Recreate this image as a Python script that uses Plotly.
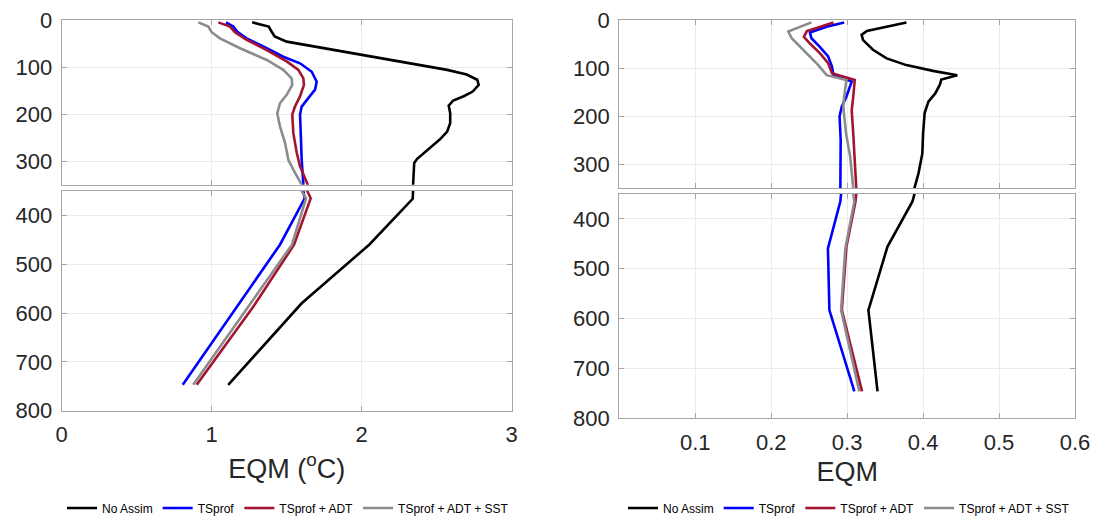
import plotly.graph_objects as go

# ---------------- data ----------------
series_names = ["No Assim", "TSprof", "TSprof + ADT", "TSprof + ADT + SST"]
series_colors = ["#000000", "#0000FF", "#A2142F", "#8C8C8C"]

# Left panel: temperature RMSE (EQM, degC) vs depth (m)
t_noassim_depth = [5, 14, 25, 35, 46, 56, 74, 92, 106, 116, 127, 138, 152, 162, 171, 182, 198, 219, 237, 254, 279, 295, 304, 366, 460, 580, 747]
t_noassim_eqm = [1.27, 1.38, 1.40, 1.42, 1.50, 1.68, 2.01, 2.34, 2.57, 2.70, 2.77, 2.78, 2.74, 2.68, 2.61, 2.58, 2.59, 2.59, 2.57, 2.52, 2.43, 2.37, 2.35, 2.34, 2.05, 1.60, 1.11]

t_tsprof_depth = [5, 14, 25, 39, 60, 78, 92, 110, 131, 148, 166, 184, 201, 240, 297, 350, 365, 460, 747]
t_tsprof_eqm = [1.095, 1.144, 1.171, 1.233, 1.367, 1.477, 1.589, 1.667, 1.70, 1.689, 1.644, 1.60, 1.589, 1.593, 1.60, 1.611, 1.62, 1.455, 0.807]

t_adt_depth = [5, 14, 26, 42, 64, 88, 106, 124, 138, 162, 184, 201, 240, 282, 311, 350, 365, 460, 587, 747]
t_adt_eqm = [1.044, 1.122, 1.155, 1.233, 1.367, 1.50, 1.578, 1.611, 1.615, 1.589, 1.555, 1.537, 1.544, 1.567, 1.589, 1.637, 1.66, 1.549, 1.277, 0.90]

t_sst_depth = [5, 14, 26, 39, 60, 85, 106, 124, 138, 159, 177, 198, 226, 261, 297, 318, 350, 365, 460, 747]
t_sst_eqm = [0.911, 0.977, 1.0, 1.055, 1.189, 1.367, 1.477, 1.533, 1.537, 1.50, 1.455, 1.437, 1.455, 1.489, 1.511, 1.544, 1.60, 1.629, 1.535, 0.877]

# Right panel: salinity RMSE (EQM) vs depth (m)
s_noassim_depth = [5, 14, 23, 31, 42, 62, 80, 94, 106, 115, 124, 135, 153, 170, 194, 236, 278, 319, 350, 365, 456, 583, 746]
s_noassim_eqm = [0.378, 0.352, 0.326, 0.319, 0.321, 0.334, 0.352, 0.378, 0.413, 0.445, 0.424, 0.422, 0.416, 0.407, 0.402, 0.400, 0.399, 0.394, 0.389, 0.386, 0.353, 0.328, 0.340]

s_tsprof_depth = [5, 14, 26, 38, 56, 76, 97, 115, 128, 160, 180, 201, 250, 350, 365, 459, 583, 746]
s_tsprof_eqm = [0.296, 0.273, 0.251, 0.253, 0.264, 0.275, 0.280, 0.282, 0.306, 0.299, 0.293, 0.290, 0.2915, 0.292, 0.291, 0.2747, 0.2766, 0.3095]

s_adt_depth = [5, 23, 35, 49, 69, 90, 111, 125, 160, 188, 236, 350, 365, 456, 583, 746]
s_adt_eqm = [0.282, 0.247, 0.243, 0.251, 0.264, 0.275, 0.280, 0.310, 0.308, 0.306, 0.308, 0.312, 0.311, 0.299, 0.293, 0.3196]

s_sst_depth = [5, 24, 38, 69, 94, 115, 125, 160, 181, 236, 285, 350, 365, 459, 583, 746]
s_sst_eqm = [0.253, 0.2225, 0.227, 0.247, 0.262, 0.273, 0.299, 0.296, 0.295, 0.2985, 0.304, 0.308, 0.3095, 0.2976, 0.292, 0.316]

left_xticks = [0, 1, 2, 3]
right_xticks = [0.1, 0.2, 0.3, 0.4, 0.5, 0.6]
top_yticks = [0, 100, 200, 300]
bottom_yticks = [400, 500, 600, 700, 800]

left_series = [(t_noassim_eqm, t_noassim_depth), (t_tsprof_eqm, t_tsprof_depth),
               (t_adt_eqm, t_adt_depth), (t_sst_eqm, t_sst_depth)]
right_series = [(s_noassim_eqm, s_noassim_depth), (s_tsprof_eqm, s_tsprof_depth),
                (s_adt_eqm, s_adt_depth), (s_sst_eqm, s_sst_depth)]

# ---------------- figure ----------------
# The page body has an 8px default margin, so the figure is drawn 8px in
# from the window's top-left corner; size and positions account for it.
OFF = 8
W, H = 1105 - OFF, 517 - OFF
fig = go.Figure()

def add_panel(series, xa_bottom, ya_bottom, xa_top, ya_top, legend_name):
    for i, (x, y) in enumerate(series):
        for (xa, ya, show) in [(xa_top, ya_top, True), (xa_bottom, ya_bottom, False)]:
            fig.add_trace(go.Scatter(
                x=x, y=y, mode="lines", name=series_names[i],
                line=dict(color=series_colors[i], width=2.6),
                xaxis=xa, yaxis=ya, showlegend=show, legend=legend_name,
                legendgroup=legend_name + str(i)))

add_panel(left_series, "x", "y", "x2", "y2", "legend")
add_panel(right_series, "x3", "y3", "x4", "y4", "legend2")

def px_x(a, b):
    return [(a - OFF) / W, (b - OFF) / W]

def px_y(top, bottom):
    return [1 - (bottom - OFF) / H, 1 - (top - OFF) / H]

font_family = "Liberation Sans, Arial, Helvetica, sans-serif"
tick_font = dict(family=font_family, size=22, color="#262626")
line_col = "#A6A6A6"
grid_col = "#EBEBEB"

axis_common = dict(showline=True, linecolor=line_col, linewidth=1.2, mirror="ticks",
                   ticks="inside", ticklen=5, tickcolor=line_col, showgrid=True,
                   gridcolor=grid_col, gridwidth=1, zeroline=False, tickfont=tick_font,
                   automargin=False, ticklabeloverflow="allow")

L = px_x(61.7, 511.7)
R = px_x(619.3, 1075)

legend_common = dict(orientation="h", y=1 - (508 - OFF) / H, yanchor="middle",
                     font=dict(family=font_family, size=12, color="#000000"), itemwidth=30,
                     tracegroupgap=0, bgcolor="rgba(0,0,0,0)")

fig.update_layout(
    template="none",
    width=W, height=H, margin=dict(l=0, r=0, t=0, b=0, autoexpand=False),
    plot_bgcolor="white", paper_bgcolor="white",
    xaxis=dict(domain=L, anchor="y", range=[0, 3], tickvals=left_xticks, ticklabelstandoff=4,
               title=dict(text="EQM (<sup>o</sup>C)", font=dict(family=font_family, size=27, color="#262626"), standoff=12),
               **axis_common),
    yaxis=dict(domain=px_y(191, 410.7), anchor="x", range=[800, 350], tickvals=bottom_yticks, ticklabelstandoff=4, **axis_common),
    xaxis2=dict(domain=L, anchor="y2", range=[0, 3], tickvals=left_xticks, showticklabels=False, **axis_common),
    yaxis2=dict(domain=px_y(20, 184.7), anchor="x2", range=[350, 0], tickvals=top_yticks, ticklabelstandoff=4, **axis_common),
    xaxis3=dict(domain=R, anchor="y3", range=[0, 0.6], tickvals=right_xticks, ticklabelstandoff=4,
                title=dict(text="EQM", font=dict(family=font_family, size=27, color="#262626"), standoff=8),
                **axis_common),
    yaxis3=dict(domain=px_y(194, 418.3), anchor="x3", range=[800, 350], tickvals=bottom_yticks, ticklabelstandoff=4, **axis_common),
    xaxis4=dict(domain=R, anchor="y4", range=[0, 0.6], tickvals=right_xticks, showticklabels=False, **axis_common),
    yaxis4=dict(domain=px_y(20, 188), anchor="x4", range=[350, 0], tickvals=top_yticks, ticklabelstandoff=4, **axis_common),
    legend=dict(x=(288 - OFF) / W, xanchor="center", **legend_common),
    legend2=dict(x=(849 - OFF) / W, xanchor="center", **legend_common),
)

fig.write_html("out.html")
